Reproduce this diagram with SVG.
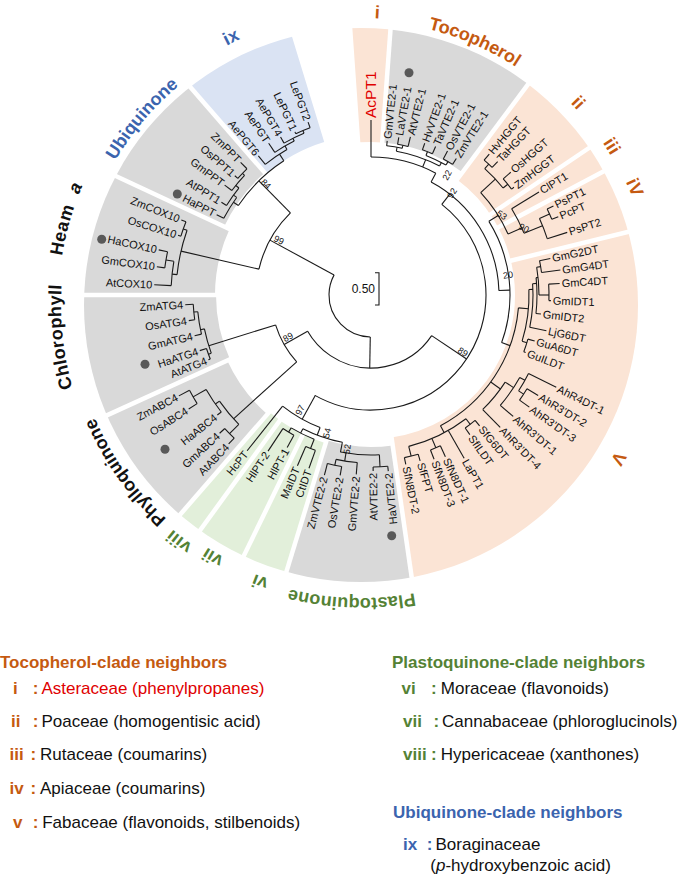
<svg xmlns="http://www.w3.org/2000/svg" width="685" height="874" viewBox="0 0 685 874">
<style>
.br{fill:none;stroke:#1a1a1a;stroke-width:1.1}
.lf{font-family:'Liberation Sans',Arial,sans-serif;font-size:11px;fill:#111}
.bs{font-family:'Liberation Sans',Arial,sans-serif;font-size:9px;fill:#111;text-anchor:middle}
.sl{font-family:'Liberation Sans',Arial,sans-serif;font-size:18px;font-weight:bold;text-anchor:middle}
.lg{font-family:'Liberation Sans',Arial,sans-serif;font-size:17px;fill:#111}
.lgb{font-family:'Liberation Sans',Arial,sans-serif;font-size:17px;font-weight:bold}
.sep{stroke:#fff;stroke-width:4.5}
.dot{fill:#595959}
.sec{fill:none}
.or{fill:#C55A11}.gr{fill:#548235}.bl{fill:#3B64AE}.rd{fill:#E00000}.bk{fill:#111}
</style>
<defs>
<clipPath id="outer" clipPathUnits="userSpaceOnUse"><circle cx="-10" cy="10" r="277"/></clipPath>
<path id="ring" d="M648,305 A287,287 0 0 1 74,305 A287,287 0 0 1 648,305"/>
</defs>

<g id="sectors" transform="translate(371,295)">
<g clip-path="url(#outer)" class="sec">
<circle id="sec-ix" r="230" stroke="#DAE3F3" stroke-width="140" transform="rotate(229)" stroke-dasharray="96.34 9999"/>
<circle id="sec-i" r="226.5" stroke="#FBE4D5" stroke-width="147" transform="rotate(266)" stroke-dasharray="32.42 9999"/>
<circle id="sec-toc" r="226.5" stroke="#D9D9D9" stroke-width="147" transform="rotate(274.2)" stroke-dasharray="128.48 9999"/>
<circle id="sec-ii-v" r="222" stroke="#FBE4D5" stroke-width="156" transform="rotate(306.7)" stroke-dasharray="523.46 9999"/>
<circle id="sec-pq" r="226" stroke="#D9D9D9" stroke-width="148" transform="rotate(81.8)" stroke-dasharray="99.40 9999"/>
<circle id="sec-vi-viii" r="227.5" stroke="#E2EFDA" stroke-width="145" transform="rotate(107)" stroke-dasharray="95.30 9999"/>
<circle id="sec-phyllo" r="229" stroke="#D9D9D9" stroke-width="142" transform="rotate(131)" stroke-dasharray="97.92 9999"/>
<circle id="sec-chloro" r="227.5" stroke="#D9D9D9" stroke-width="145" transform="rotate(155.5)" stroke-dasharray="97.28 9999"/>
<circle id="sec-heam" r="228" stroke="#D9D9D9" stroke-width="144" transform="rotate(180)" stroke-dasharray="99.48 9999"/>
<circle id="sec-ubi" r="231" stroke="#D9D9D9" stroke-width="138" transform="rotate(205)" stroke-dasharray="96.76 9999"/>
</g>
<g class="sep">
<line x1="135" x2="300" transform="rotate(229)"/>
<line x1="135" x2="300" transform="rotate(274.2)"/>
<line x1="135" x2="300" transform="rotate(306.7)"/>
<line x1="135" x2="300" transform="rotate(326)"/>
<line x1="135" x2="300" transform="rotate(332)"/>
<line x1="135" x2="300" transform="rotate(346.2)"/>
<line x1="135" x2="300" transform="rotate(81.8)"/>
<line x1="135" x2="300" transform="rotate(107)"/>
<line x1="135" x2="300" transform="rotate(116)"/>
<line x1="135" x2="300" transform="rotate(126)"/>
<line x1="135" x2="300" transform="rotate(131)"/>
<line x1="135" x2="300" transform="rotate(155.5)"/>
<line x1="135" x2="300" transform="rotate(180)"/>
<line x1="135" x2="300" transform="rotate(205)"/>
</g>
</g>

<g id="connectors" class="br" transform="translate(371,295)">
<circle r="42" transform="rotate(91)" stroke-dasharray="86.13 9999"/>
<circle r="115" transform="rotate(193)" stroke-dasharray="65.23 9999"/>
<circle r="195" transform="rotate(186)" stroke-dasharray="45.61 9999"/>
<circle r="200" transform="rotate(182.7)" stroke-dasharray="24.43 9999"/>
<circle r="208" transform="rotate(187.5)" stroke-dasharray="16.34 9999"/>
<circle r="199" transform="rotate(197.2)" stroke-dasharray="15.28 9999"/>
<circle r="160" transform="rotate(214)" stroke-dasharray="64.23 9999"/>
<circle r="166" transform="rotate(207.5)" stroke-dasharray="24.63 9999"/>
<circle r="170" transform="rotate(211.8)" stroke-dasharray="21.36 9999"/>
<circle r="174" transform="rotate(216.9)" stroke-dasharray="19.74 9999"/>
<circle r="177" transform="rotate(221.2)" stroke-dasharray="13.28 9999"/>
<circle r="168" transform="rotate(231)" stroke-dasharray="26.39 9999"/>
<circle r="172" transform="rotate(236)" stroke-dasharray="22.51 9999"/>
<circle r="175" transform="rotate(240.2)" stroke-dasharray="22.30 9999"/>
<circle r="178" transform="rotate(245)" stroke-dasharray="15.53 9999"/>
<circle r="73" transform="rotate(33.8)" stroke-dasharray="148.43 9999"/>
<circle r="100" transform="rotate(138)" stroke-dasharray="42.94 9999"/>
<circle r="170" transform="rotate(160)" stroke-dasharray="25.22 9999"/>
<circle r="173" transform="rotate(158.3)" stroke-dasharray="11.17 9999"/>
<circle r="174" transform="rotate(167)" stroke-dasharray="22.78 9999"/>
<circle r="178" transform="rotate(172)" stroke-dasharray="15.53 9999"/>
<circle r="185" transform="rotate(135.6)" stroke-dasharray="30.35 9999"/>
<circle r="198" transform="rotate(133.7)" stroke-dasharray="13.48 9999"/>
<circle r="190" transform="rotate(142)" stroke-dasharray="27.19 9999"/>
<circle r="205" transform="rotate(148)" stroke-dasharray="15.39 9999"/>
<circle r="115" transform="rotate(-52)" stroke-dasharray="343.22 9999"/>
<circle r="142" transform="rotate(111)" stroke-dasharray="43.37 9999"/>
<circle r="150" transform="rotate(101)" stroke-dasharray="41.89 9999"/>
<circle r="160" transform="rotate(87)" stroke-dasharray="39.10 9999"/>
<circle r="172" transform="rotate(84.4)" stroke-dasharray="14.71 9999"/>
<circle r="168" transform="rotate(94.7)" stroke-dasharray="21.40 9999"/>
<circle r="174" transform="rotate(99.7)" stroke-dasharray="14.58 9999"/>
<circle r="155" transform="rotate(111.5)" stroke-dasharray="25.70 9999"/>
<circle r="165" transform="rotate(109.7)" stroke-dasharray="10.37 9999"/>
<circle r="160" transform="rotate(118.8)" stroke-dasharray="12.85 9999"/>
<circle r="128" transform="rotate(-62)" stroke-dasharray="134.04 9999"/>
<circle r="138" transform="rotate(-90)" stroke-dasharray="67.44 9999"/>
<circle r="146" transform="rotate(-80)" stroke-dasharray="45.87 9999"/>
<circle r="150" transform="rotate(-84)" stroke-dasharray="15.71 9999"/>
<circle r="153" transform="rotate(-80)" stroke-dasharray="10.68 9999"/>
<circle r="150" transform="rotate(-68.5)" stroke-dasharray="22.25 9999"/>
<circle r="154" transform="rotate(-70.5)" stroke-dasharray="10.75 9999"/>
<circle r="154" transform="rotate(-62)" stroke-dasharray="10.75 9999"/>
<circle r="139" transform="rotate(-32)" stroke-dasharray="126.15 9999"/>
<circle r="150" transform="rotate(-43)" stroke-dasharray="49.74 9999"/>
<circle r="170" transform="rotate(-48)" stroke-dasharray="26.70 9999"/>
<circle r="176" transform="rotate(-50)" stroke-dasharray="10.75 9999"/>
<circle r="176" transform="rotate(-41.3)" stroke-dasharray="13.21 9999"/>
<circle r="165" transform="rotate(-31.5)" stroke-dasharray="27.36 9999"/>
<circle r="185" transform="rotate(-24.4)" stroke-dasharray="21.63 9999"/>
<circle r="196" transform="rotate(-26)" stroke-dasharray="11.29 9999"/>
<circle r="148" transform="rotate(5)" stroke-dasharray="147.24 9999"/>
<circle r="158" transform="rotate(-2)" stroke-dasharray="52.39 9999"/>
<circle r="163" transform="rotate(15.7)" stroke-dasharray="13.37 9999"/>
<circle r="162" transform="rotate(-4)" stroke-dasharray="43.83 9999"/>
<circle r="166" transform="rotate(-6)" stroke-dasharray="35.93 9999"/>
<circle r="168" transform="rotate(-9.5)" stroke-dasharray="27.86 9999"/>
<circle r="172" transform="rotate(-11.5)" stroke-dasharray="12.01 9999"/>
<circle r="178" transform="rotate(-3.5)" stroke-dasharray="16.47 9999"/>
<circle r="160" transform="rotate(33)" stroke-dasharray="35.46 9999"/>
<circle r="170" transform="rotate(29)" stroke-dasharray="34.12 9999"/>
<circle r="176" transform="rotate(26.5)" stroke-dasharray="19.97 9999"/>
<circle r="182" transform="rotate(31)" stroke-dasharray="13.66 9999"/>
<circle r="156" transform="rotate(52.5)" stroke-dasharray="63.98 9999"/>
<circle r="163" transform="rotate(50.3)" stroke-dasharray="12.52 9999"/>
<circle r="166" transform="rotate(65.3)" stroke-dasharray="10.72 9999"/>
<circle r="166" transform="rotate(73.5)" stroke-dasharray="14.20 9999"/>

<line x1="42" x2="115" transform="rotate(208.5)"/>
<line x1="115" x2="195" transform="rotate(193)"/>
<line x1="195" x2="200" transform="rotate(186)"/>
<line x1="200" x2="217" transform="rotate(182.7)"/>
<line x1="200" x2="208" transform="rotate(189.7)"/>
<line x1="208" x2="216" transform="rotate(187.5)"/>
<line x1="208" x2="217" transform="rotate(192)"/>
<line x1="195" x2="199" transform="rotate(199.4)"/>
<line x1="199" x2="202" transform="rotate(197.2)"/>
<line x1="199" x2="204" transform="rotate(201.6)"/>
<line x1="115" x2="160" transform="rotate(225.5)"/>
<line x1="160" x2="166" transform="rotate(214)"/>
<line x1="166" x2="174" transform="rotate(207.5)"/>
<line x1="166" x2="170" transform="rotate(216)"/>
<line x1="170" x2="176" transform="rotate(211.8)"/>
<line x1="170" x2="174" transform="rotate(219)"/>
<line x1="174" x2="183" transform="rotate(216.9)"/>
<line x1="174" x2="177" transform="rotate(223.4)"/>
<line x1="177" x2="181" transform="rotate(221.2)"/>
<line x1="177" x2="186" transform="rotate(225.5)"/>
<line x1="160" x2="168" transform="rotate(237)"/>
<line x1="168" x2="179" transform="rotate(231)"/>
<line x1="168" x2="172" transform="rotate(240)"/>
<line x1="172" x2="183" transform="rotate(236)"/>
<line x1="172" x2="175" transform="rotate(243.5)"/>
<line x1="175" x2="182" transform="rotate(240.2)"/>
<line x1="175" x2="178" transform="rotate(247.5)"/>
<line x1="178" x2="180" transform="rotate(245)"/>
<line x1="178" x2="184" transform="rotate(250)"/>
<line x1="42" x2="73" transform="rotate(91)"/>
<line x1="73" x2="100" transform="rotate(150.3)"/>
<line x1="100" x2="170" transform="rotate(162.6)"/>
<line x1="170" x2="173" transform="rotate(160)"/>
<line x1="173" x2="175" transform="rotate(158.3)"/>
<line x1="173" x2="180" transform="rotate(162)"/>
<line x1="170" x2="174" transform="rotate(168.5)"/>
<line x1="174" x2="181" transform="rotate(167)"/>
<line x1="174" x2="178" transform="rotate(174.5)"/>
<line x1="178" x2="184" transform="rotate(172)"/>
<line x1="178" x2="186" transform="rotate(177)"/>
<line x1="100" x2="185" transform="rotate(138)"/>
<line x1="185" x2="198" transform="rotate(135.6)"/>
<line x1="198" x2="206" transform="rotate(133.7)"/>
<line x1="198" x2="205" transform="rotate(137.6)"/>
<line x1="185" x2="190" transform="rotate(145)"/>
<line x1="190" x2="195" transform="rotate(142)"/>
<line x1="190" x2="205" transform="rotate(150.2)"/>
<line x1="205" x2="215" transform="rotate(148)"/>
<line x1="205" x2="217" transform="rotate(152.3)"/>
<line x1="73" x2="115" transform="rotate(33.8)"/>
<line x1="115" x2="142" transform="rotate(119)"/>
<line x1="142" x2="199" transform="rotate(128.5)"/>
<line x1="142" x2="150" transform="rotate(111)"/>
<line x1="150" x2="160" transform="rotate(101)"/>
<line x1="160" x2="172" transform="rotate(87)"/>
<line x1="172" x2="177" transform="rotate(84.4)"/>
<line x1="172" x2="176" transform="rotate(89.3)"/>
<line x1="160" x2="168" transform="rotate(99)"/>
<line x1="168" x2="180" transform="rotate(94.7)"/>
<line x1="168" x2="174" transform="rotate(102)"/>
<line x1="174" x2="183" transform="rotate(99.7)"/>
<line x1="174" x2="186" transform="rotate(104.5)"/>
<line x1="150" x2="155" transform="rotate(117)"/>
<line x1="155" x2="165" transform="rotate(111.5)"/>
<line x1="165" x2="184" transform="rotate(109.7)"/>
<line x1="165" x2="186" transform="rotate(113.3)"/>
<line x1="155" x2="160" transform="rotate(121)"/>
<line x1="160" x2="174" transform="rotate(118.8)"/>
<line x1="160" x2="187" transform="rotate(123.4)"/>
<line x1="115" x2="128" transform="rotate(-52)"/>
<line x1="128" x2="138" transform="rotate(-62)"/>
<line x1="138" x2="175" transform="rotate(-90)"/>
<line x1="138" x2="146" transform="rotate(-68)"/>
<line x1="146" x2="150" transform="rotate(-80)"/>
<line x1="150" x2="155" transform="rotate(-84)"/>
<line x1="150" x2="153" transform="rotate(-78)"/>
<line x1="153" x2="160" transform="rotate(-80)"/>
<line x1="153" x2="163" transform="rotate(-76)"/>
<line x1="146" x2="150" transform="rotate(-62)"/>
<line x1="150" x2="154" transform="rotate(-68.5)"/>
<line x1="154" x2="161" transform="rotate(-70.5)"/>
<line x1="154" x2="162" transform="rotate(-66.5)"/>
<line x1="150" x2="154" transform="rotate(-60)"/>
<line x1="154" x2="163" transform="rotate(-62)"/>
<line x1="154" x2="161" transform="rotate(-58)"/>
<line x1="128" x2="139" transform="rotate(-2)"/>
<line x1="139" x2="150" transform="rotate(-32)"/>
<line x1="150" x2="170" transform="rotate(-43)"/>
<line x1="170" x2="176" transform="rotate(-48)"/>
<line x1="176" x2="184" transform="rotate(-50)"/>
<line x1="176" x2="184" transform="rotate(-46.5)"/>
<line x1="170" x2="176" transform="rotate(-39)"/>
<line x1="176" x2="186" transform="rotate(-41.3)"/>
<line x1="176" x2="179" transform="rotate(-37)"/>
<line x1="150" x2="165" transform="rotate(-24)"/>
<line x1="165" x2="197" transform="rotate(-31.5)"/>
<line x1="165" x2="185" transform="rotate(-22)"/>
<line x1="185" x2="196" transform="rotate(-24.4)"/>
<line x1="196" x2="203" transform="rotate(-26)"/>
<line x1="196" x2="203" transform="rotate(-22.7)"/>
<line x1="185" x2="206" transform="rotate(-17.7)"/>
<line x1="139" x2="148" transform="rotate(20)"/>
<line x1="148" x2="158" transform="rotate(5)"/>
<line x1="158" x2="163" transform="rotate(17)"/>
<line x1="163" x2="170" transform="rotate(15.7)"/>
<line x1="163" x2="165" transform="rotate(20.4)"/>
<line x1="158" x2="162" transform="rotate(-2)"/>
<line x1="162" x2="179" transform="rotate(11.5)"/>
<line x1="162" x2="166" transform="rotate(-4)"/>
<line x1="166" x2="171" transform="rotate(6.4)"/>
<line x1="166" x2="168" transform="rotate(-6)"/>
<line x1="168" x2="172" transform="rotate(-9.5)"/>
<line x1="172" x2="183" transform="rotate(-11.5)"/>
<line x1="172" x2="191" transform="rotate(-7.5)"/>
<line x1="168" x2="178" transform="rotate(0)"/>
<line x1="178" x2="189" transform="rotate(-3.5)"/>
<line x1="178" x2="180" transform="rotate(1.8)"/>
<line x1="148" x2="160" transform="rotate(36)"/>
<line x1="160" x2="170" transform="rotate(33)"/>
<line x1="170" x2="176" transform="rotate(29)"/>
<line x1="176" x2="207" transform="rotate(26.5)"/>
<line x1="176" x2="182" transform="rotate(33)"/>
<line x1="182" x2="195" transform="rotate(31)"/>
<line x1="182" x2="194" transform="rotate(35.3)"/>
<line x1="170" x2="187" transform="rotate(40.5)"/>
<line x1="160" x2="185" transform="rotate(45.7)"/>
<line x1="148" x2="156" transform="rotate(62)"/>
<line x1="156" x2="163" transform="rotate(52.5)"/>
<line x1="163" x2="170" transform="rotate(50.3)"/>
<line x1="163" x2="171" transform="rotate(54.7)"/>
<line x1="156" x2="188" transform="rotate(60.3)"/>
<line x1="156" x2="166" transform="rotate(67)"/>
<line x1="166" x2="178" transform="rotate(65.3)"/>
<line x1="166" x2="176" transform="rotate(69)"/>
<line x1="156" x2="166" transform="rotate(76)"/>
<line x1="166" x2="173" transform="rotate(73.5)"/>
<line x1="166" x2="173" transform="rotate(78.4)"/>
</g>

<g id="leaves" class="lf" transform="translate(371,295)">
<g id="n-AcPT1"><text transform="rotate(-90)" x="177" dy=".35em" class="rd" style="font-size:15.5px">AcPT1</text></g>
<g id="n-GmVTE2-1"><text transform="rotate(-84)" x="157" dy=".35em">GmVTE2-1</text></g>
<g id="n-LaVTE2-1"><text transform="rotate(-80)" x="162" dy=".35em">LaVTE2-1</text><circle class="dot" cx="38" cy="-222.3" r="4.5"/></g>
<g id="n-AtVTE2-1"><text transform="rotate(-76)" x="165" dy=".35em">AtVTE2-1</text></g>
<g id="n-HvVTE2-1"><text transform="rotate(-70.5)" x="163" dy=".35em">HvVTE2-1</text></g>
<g id="n-TaVTE2-1"><text transform="rotate(-66.5)" x="164" dy=".35em">TaVTE2-1</text></g>
<g id="n-OsVTE2-1"><text transform="rotate(-62)" x="165" dy=".35em">OsVTE2-1</text></g>
<g id="n-ZmVTE2-1"><text transform="rotate(-58)" x="163" dy=".35em">ZmVTE2-1</text></g>
<g id="n-HvHGGT"><text transform="rotate(-50)" x="186" dy=".35em">HvHGGT</text></g>
<g id="n-TaHGGT"><text transform="rotate(-46.5)" x="186" dy=".35em">TaHGGT</text></g>
<g id="n-OsHGGT"><text transform="rotate(-41.3)" x="188" dy=".35em">OsHGGT</text></g>
<g id="n-ZmHGGT"><text transform="rotate(-37)" x="181" dy=".35em">ZmHGGT</text></g>
<g id="n-ClPT1"><text transform="rotate(-31.5)" x="199" dy=".35em">ClPT1</text></g>
<g id="n-PsPT1"><text transform="rotate(-26)" x="205" dy=".35em">PsPT1</text></g>
<g id="n-PcPT"><text transform="rotate(-22.7)" x="205" dy=".35em">PcPT</text></g>
<g id="n-PsPT2"><text transform="rotate(-17.7)" x="208" dy=".35em">PsPT2</text></g>
<g id="n-GmG2DT"><text transform="rotate(-11.5)" x="185" dy=".35em">GmG2DT</text></g>
<g id="n-GmG4DT"><text transform="rotate(-7.5)" x="193" dy=".35em">GmG4DT</text></g>
<g id="n-GmC4DT"><text transform="rotate(-3.5)" x="191" dy=".35em">GmC4DT</text></g>
<g id="n-GmIDT1"><text transform="rotate(1.8)" x="182" dy=".35em">GmIDT1</text></g>
<g id="n-GmIDT2"><text transform="rotate(6.4)" x="173" dy=".35em">GmIDT2</text></g>
<g id="n-LjG6DT"><text transform="rotate(11.5)" x="181" dy=".35em">LjG6DT</text></g>
<g id="n-GuA6DT"><text transform="rotate(15.7)" x="172" dy=".35em">GuA6DT</text></g>
<g id="n-GuILDT"><text transform="rotate(20.4)" x="167" dy=".35em">GuILDT</text></g>
<g id="n-AhR4DT-1"><text transform="rotate(26.5)" x="209" dy=".35em">AhR4DT-1</text></g>
<g id="n-AhR3DT-2"><text transform="rotate(31)" x="197" dy=".35em">AhR3’DT-2</text></g>
<g id="n-AhR3DT-3"><text transform="rotate(35.3)" x="196" dy=".35em">AhR3’DT-3</text></g>
<g id="n-AhR3DT-1"><text transform="rotate(40.5)" x="189" dy=".35em">AhR3’DT-1</text></g>
<g id="n-AhR3DT-4"><text transform="rotate(45.7)" x="187" dy=".35em">AhR3’DT-4</text></g>
<g id="n-SfG6DT"><text transform="rotate(50.3)" x="172" dy=".35em">SfG6DT</text></g>
<g id="n-SfILDT"><text transform="rotate(54.7)" x="173" dy=".35em">SfILDT</text></g>
<g id="n-LaPT1"><text transform="rotate(60.3)" x="190" dy=".35em">LaPT1</text></g>
<g id="n-SfN8DT-1"><text transform="rotate(65.3)" x="180" dy=".35em">SfN8DT-1</text></g>
<g id="n-SfN8DT-3"><text transform="rotate(69)" x="178" dy=".35em">SfN8DT-3</text></g>
<g id="n-SfFPT"><text transform="rotate(73.5)" x="175" dy=".35em">SfFPT</text></g>
<g id="n-SfN8DT-2"><text transform="rotate(78.4)" x="175" dy=".35em">SfN8DT-2</text></g>
<g id="n-HaVTE2-2"><text transform="rotate(-95.6)" x="-179" dy=".35em" text-anchor="end">HaVTE2-2</text><circle class="dot" cx="20.7" cy="240.7" r="4.5"/></g>
<g id="n-AtVTE2-2"><text transform="rotate(-90.7)" x="-178" dy=".35em" text-anchor="end">AtVTE2-2</text></g>
<g id="n-GmVTE2-2"><text transform="rotate(-85.3)" x="-182" dy=".35em" text-anchor="end">GmVTE2-2</text></g>
<g id="n-OsVTE2-2"><text transform="rotate(-80.3)" x="-185" dy=".35em" text-anchor="end">OsVTE2-2</text></g>
<g id="n-ZmVTE2-2"><text transform="rotate(-75.5)" x="-188" dy=".35em" text-anchor="end">ZmVTE2-2</text></g>
<g id="n-CtIDT"><text transform="rotate(-70.3)" x="-186" dy=".35em" text-anchor="end">CtIDT</text></g>
<g id="n-MaIDT"><text transform="rotate(-66.7)" x="-188" dy=".35em" text-anchor="end">MaIDT</text></g>
<g id="n-HlPT-1"><text transform="rotate(-61.2)" x="-176" dy=".35em" text-anchor="end">HlPT-1</text></g>
<g id="n-HlPT-2"><text transform="rotate(-56.6)" x="-189" dy=".35em" text-anchor="end">HlPT-2</text></g>
<g id="n-HcPT"><text transform="rotate(-51.5)" x="-201" dy=".35em" text-anchor="end">HcPT</text></g>
<g id="n-AtABC4"><text transform="rotate(-46.3)" x="-208" dy=".35em" text-anchor="end">AtABC4</text></g>
<g id="n-GmABC4"><text transform="rotate(-42.4)" x="-207" dy=".35em" text-anchor="end">GmABC4</text></g>
<g id="n-HaABC4"><text transform="rotate(-38)" x="-197" dy=".35em" text-anchor="end">HaABC4</text><circle class="dot" cx="-206" cy="154.3" r="4.5"/></g>
<g id="n-OsABC4"><text transform="rotate(-32)" x="-217" dy=".35em" text-anchor="end">OsABC4</text></g>
<g id="n-ZmABC4"><text transform="rotate(-27.7)" x="-219" dy=".35em" text-anchor="end">ZmABC4</text></g>
<g id="n-AtATG4"><text transform="rotate(-21.7)" x="-177" dy=".35em" text-anchor="end">AtATG4</text></g>
<g id="n-HaATG4"><text transform="rotate(-18)" x="-182" dy=".35em" text-anchor="end">HaATG4</text><circle class="dot" cx="-226" cy="69.3" r="4.5"/></g>
<g id="n-GmATG4"><text transform="rotate(-13)" x="-183" dy=".35em" text-anchor="end">GmATG4</text></g>
<g id="n-OsATG4"><text transform="rotate(-8)" x="-186" dy=".35em" text-anchor="end">OsATG4</text></g>
<g id="n-ZmATG4"><text transform="rotate(-3)" x="-188" dy=".35em" text-anchor="end">ZmATG4</text></g>
<g id="n-AtCOX10"><text transform="rotate(2.7)" x="-219" dy=".35em" text-anchor="end">AtCOX10</text></g>
<g id="n-GmCOX10"><text transform="rotate(7.5)" x="-218" dy=".35em" text-anchor="end">GmCOX10</text></g>
<g id="n-HaCOX10"><text transform="rotate(12)" x="-219" dy=".35em" text-anchor="end">HaCOX10</text><circle class="dot" cx="-269.3" cy="-55.7" r="4.5"/></g>
<g id="n-OsCOX10"><text transform="rotate(17.2)" x="-204" dy=".35em" text-anchor="end">OsCOX10</text></g>
<g id="n-ZmCOX10"><text transform="rotate(21.6)" x="-206" dy=".35em" text-anchor="end">ZmCOX10</text></g>
<g id="n-HaPPT"><text transform="rotate(27.5)" x="-176" dy=".35em" text-anchor="end">HaPPT</text><circle class="dot" cx="-193.7" cy="-101" r="4.5"/></g>
<g id="n-AtPPT1"><text transform="rotate(31.8)" x="-178" dy=".35em" text-anchor="end">AtPPT1</text></g>
<g id="n-GmPPT"><text transform="rotate(36.9)" x="-185" dy=".35em" text-anchor="end">GmPPT</text></g>
<g id="n-OsPPT1"><text transform="rotate(41.2)" x="-183" dy=".35em" text-anchor="end">OsPPT1</text></g>
<g id="n-ZmPPT"><text transform="rotate(45.5)" x="-188" dy=".35em" text-anchor="end">ZmPPT</text></g>
<g id="n-AePGT6"><text transform="rotate(51)" x="-181" dy=".35em" text-anchor="end">AePGT6</text></g>
<g id="n-AePGT"><text transform="rotate(56)" x="-185" dy=".35em" text-anchor="end">AePGT</text></g>
<g id="n-AePGT4"><text transform="rotate(60.2)" x="-184" dy=".35em" text-anchor="end">AePGT4</text></g>
<g id="n-LePGT1"><text transform="rotate(65)" x="-182" dy=".35em" text-anchor="end">LePGT1</text></g>
<g id="n-LePGT2"><text transform="rotate(70)" x="-186" dy=".35em" text-anchor="end">LePGT2</text></g>
</g>

<g id="bootstrap" class="bs">
<text transform="translate(279,240) rotate(27)" dy=".35em">99</text>
<text transform="translate(266,184) rotate(45)" dy=".35em">84</text>
<text transform="translate(288,337) rotate(-28)" dy=".35em">89</text>
<text transform="translate(463,352) rotate(34)" dy=".35em">89</text>
<text transform="translate(300,410) rotate(-62)" dy=".35em">97</text>
<text transform="translate(327,433) rotate(-75)" dy=".35em">54</text>
<text transform="translate(347,449) rotate(-82)" dy=".35em">52</text>
<text transform="translate(447,175) rotate(-62)" dy=".35em">22</text>
<text transform="translate(452,193) rotate(-58)" dy=".35em">92</text>
<text transform="translate(502,215) rotate(32)" dy=".35em">53</text>
<text transform="translate(524,228) rotate(30)" dy=".35em">90</text>
<text transform="translate(508,275) rotate(-8)" dy=".35em">20</text>
</g>

<g id="scale-bar">
<path class="br" d="M375,272.7 H379 V305 H375"/>
<text x="375" y="293" font-family="'Liberation Sans',Arial,sans-serif" font-size="12" text-anchor="end" fill="#111">0.50</text>
</g>

<g id="sector-labels" class="sl">
<text class="or" dy="0"><textPath href="#ring" startOffset="1367.98">i</textPath></text>
<text class="or" dy="3"><textPath href="#ring" startOffset="1469">Tocopherol</textPath></text>
<text class="or" dy="-4"><textPath href="#ring" startOffset="1587.38">ii</textPath></text>
<text class="or" dy="-4"><textPath href="#ring" startOffset="1640.48">iii</textPath></text>
<text class="or" dy="-5"><textPath href="#ring" startOffset="1686.06">iV</textPath></text>
<text class="or" dy="-7"><textPath href="#ring" startOffset="154.28">V</textPath></text>
<text class="gr" dy="-6"><textPath href="#ring" startOffset="459.84">Plastoquinone</textPath></text>
<text class="gr" dy="-2"><textPath href="#ring" startOffset="551.0">vi</textPath></text>
<text class="gr" dy="0"><textPath href="#ring" startOffset="603.10">vii</textPath></text>
<text class="gr" dy="-6"><textPath href="#ring" startOffset="638.66">viii</textPath></text>
<text class="bk" dy="-2"><textPath href="#ring" startOffset="724.5">Phylloquinone</textPath></text>
<text class="bk" dy="-13"><textPath href="#ring" startOffset="870.6">Chlorophyll</textPath></text>
<text class="bk" dy="-16"><textPath href="#ring" startOffset="972">Heam</textPath></text>
<text class="bk" dy="-16" font-style="italic"><textPath href="#ring" startOffset="1013">a</textPath></text>
<text class="bl" dy="2"><textPath href="#ring" startOffset="1103.5">Ubiquinone</textPath></text>
<text class="bl" dy="-5"><textPath href="#ring" startOffset="1222.2">ix</textPath></text>
</g>

<g id="legend">
<text class="lgb or" x="0" y="668">Tocopherol-clade neighbors</text>
<text class="lgb or" x="13" y="693.5">i</text><text class="lgb or" x="32.7" y="693.5">:</text><text class="lg rd" x="41.4" y="693.5">Asteraceae (phenylpropanes)</text>
<text class="lgb or" x="11" y="727">ii</text><text class="lgb or" x="32.7" y="727">:</text><text class="lg" x="41.4" y="727">Poaceae (homogentisic acid)</text>
<text class="lgb or" x="9.6" y="760">iii</text><text class="lgb or" x="30.5" y="760">:</text><text class="lg" x="40" y="760">Rutaceae (coumarins)</text>
<text class="lgb or" x="9.6" y="793.5">iv</text><text class="lgb or" x="30.5" y="793.5">:</text><text class="lg" x="40" y="793.5">Apiaceae (coumarins)</text>
<text class="lgb or" x="13" y="828">v</text><text class="lgb or" x="32.7" y="828">:</text><text class="lg" x="42.2" y="828">Fabaceae (flavonoids, stilbenoids)</text>
<text class="lgb gr" x="392" y="668">Plastoquinone-clade neighbors</text>
<text class="lgb gr" x="401.6" y="693.5">vi</text><text class="lgb gr" x="431" y="693.5">:</text><text class="lg" x="440.8" y="693.5">Moraceae (flavonoids)</text>
<text class="lgb gr" x="403" y="727">vii</text><text class="lgb gr" x="433.4" y="727">:</text><text class="lg" x="442" y="727">Cannabaceae (phloroglucinols)</text>
<text class="lgb gr" x="403" y="760">viii</text><text class="lgb gr" x="431" y="760">:</text><text class="lg" x="440.8" y="760">Hypericaceae (xanthones)</text>
<text class="lgb bl" x="393" y="818">Ubiquinone-clade neighbors</text>
<text class="lgb bl" x="403" y="849.5">ix</text><text class="lgb bl" x="426.8" y="849.5">:</text><text class="lg" x="435.5" y="849.5">Boraginaceae</text>
<text class="lg" x="430.3" y="871">(<tspan font-style="italic">p</tspan>-hydroxybenzoic acid)</text>
</g>
</svg>
